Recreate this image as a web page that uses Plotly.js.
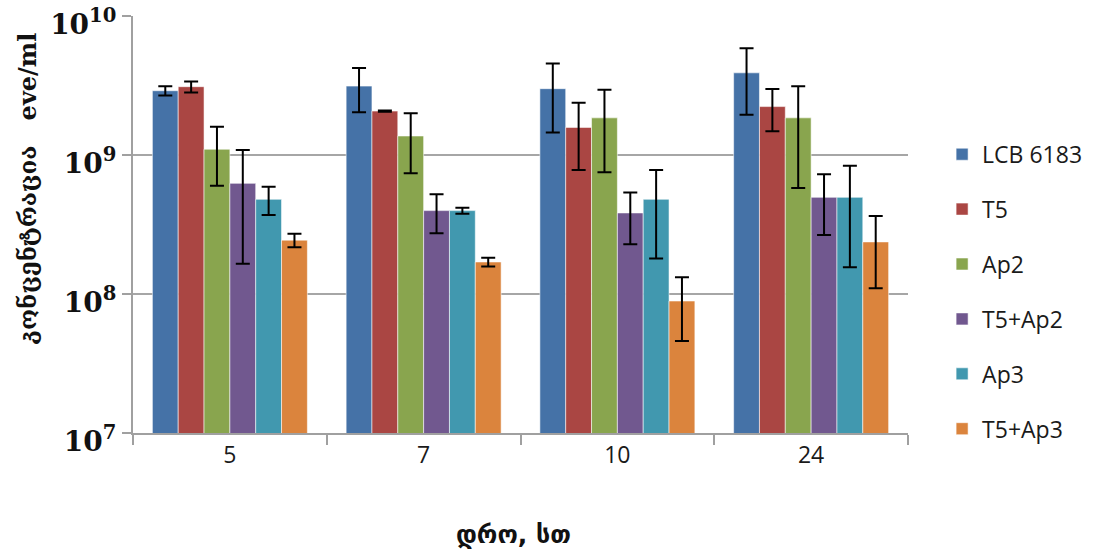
<!DOCTYPE html>
<html>
<head>
<meta charset="utf-8">
<script src="https://cdn.plot.ly/plotly-3.0.1.min.js"></script>
<style>html,body{margin:0;padding:0;background:#fff;}#chart{width:1099px;height:550px;}</style>
</head>
<body>
<div id="chart"></div>
<script>
const categories = ['5', '7', '10', '24'];
const seriesNames = ['LCB 6183', 'T5', 'Ap2', 'T5+Ap2', 'Ap3', 'T5+Ap3'];
const lcb6183 = [2.9e9, 3.13e9, 3.0e9, 3.9e9];
const lcb6183Err = [0.22e9, 1.1e9, 1.55e9, 1.95e9];
const t5 = [3.1e9, 2.07e9, 1.58e9, 2.23e9];
const t5Err = [0.28e9, 0.02e9, 0.8e9, 0.75e9];
const ap2 = [1.1e9, 1.37e9, 1.85e9, 1.85e9];
const ap2Err = [0.5e9, 0.63e9, 1.1e9, 1.27e9];
const t5ap2 = [6.25e8, 3.98e8, 3.83e8, 4.96e8];
const t5ap2Err = [4.6e8, 1.25e8, 1.55e8, 2.3e8];
const ap3 = [4.8e8, 3.98e8, 4.8e8, 4.96e8];
const ap3Err = [1.1e8, 0.2e8, 3.0e8, 3.4e8];
const t5ap3 = [2.44e8, 1.7e8, 8.9e7, 2.37e8];
const t5ap3Err = [0.27e8, 0.12e8, 4.3e7, 1.27e8];
const yTickVals = [1e7, 1e8, 1e9, 1e10];
const yTickText = ['10<sup>7</sup>', '10<sup>8</sup>', '10<sup>9</sup>', '10<sup>10</sup>'];

const values = [lcb6183, t5, ap2, t5ap2, ap3, t5ap3];
const errors = [lcb6183Err, t5Err, ap2Err, t5ap2Err, ap3Err, t5ap3Err];
const colors = ['#4572A7', '#AA4643', '#89A54E', '#71588F', '#4198AF', '#DB843D'];

const data = seriesNames.map((name, i) => ({
  type: 'bar',
  name: name,
  x: categories,
  y: values[i],
  legendgroup: 'g' + i,
  marker: {color: colors[i], line: {color: 'rgba(255,255,255,0.55)', width: 1}},
  error_y: {type: 'data', array: errors[i], visible: true, color: '#000', thickness: 2, width: 7}
}));

const layout = {
  width: 1099, height: 550,
  margin: {l: 133, r: 188, t: 16, b: 117},
  paper_bgcolor: '#fff', plot_bgcolor: '#fff',
  barmode: 'group', bargap: 0.2, bargroupgap: 0,
  showlegend: true,
  legend: {
    x: 1.044, xanchor: 'left', y: 0.72, yanchor: 'top',
    font: {family: 'Open Sans, Liberation Sans, sans-serif', size: 23, color: '#1a1a1a'},
    tracegroupgap: 22, traceorder: 'grouped', bgcolor: 'rgba(0,0,0,0)'
  },
  xaxis: {
    type: 'category',
    showline: true, linecolor: '#a0a0a0', linewidth: 2,
    ticks: 'outside', tickson: 'boundaries', ticklen: 10, tickcolor: '#a0a0a0', tickwidth: 2,
    tickfont: {family: 'Open Sans, Liberation Sans, sans-serif', size: 23, color: '#1a1a1a'},
    showgrid: false, zeroline: false
  },
  yaxis: {
    type: 'log', range: [7, 10],
    tickvals: yTickVals, ticktext: yTickText,
    ticklabeloverflow: 'allow', ticklabelshift: 8,
    showline: true, linecolor: '#a0a0a0', linewidth: 2,
    ticks: 'outside', ticklen: 9, tickcolor: '#a0a0a0', tickwidth: 2,
    showgrid: true, gridcolor: '#a6a6a6', gridwidth: 2,
    tickfont: {family: 'DejaVu Serif, serif', size: 28, color: '#111', weight: 'bold'},
    zeroline: false
  },
  annotations: [
    {
      text: 'კონცენტრაცია   eve/ml',
      xref: 'paper', yref: 'paper',
      x: (27 - 133) / 778, y: (433 - 188) / 417,
      xanchor: 'center', yanchor: 'middle', textangle: -90, showarrow: false,
      font: {family: 'DejaVu Serif, DejaVu Sans, serif', size: 24, color: '#111', weight: 'bold'}
    },
    {
      text: 'დრო, სთ',
      xref: 'paper', yref: 'paper',
      x: (515 - 133) / 778, y: (433 - 534) / 417,
      xanchor: 'center', yanchor: 'middle', showarrow: false,
      font: {family: 'DejaVu Sans, sans-serif', size: 25, color: '#111', weight: 'bold'}
    }
  ]
};

Plotly.newPlot('chart', data, layout, {displayModeBar: false, staticPlot: true});
</script>
</body>
</html>
